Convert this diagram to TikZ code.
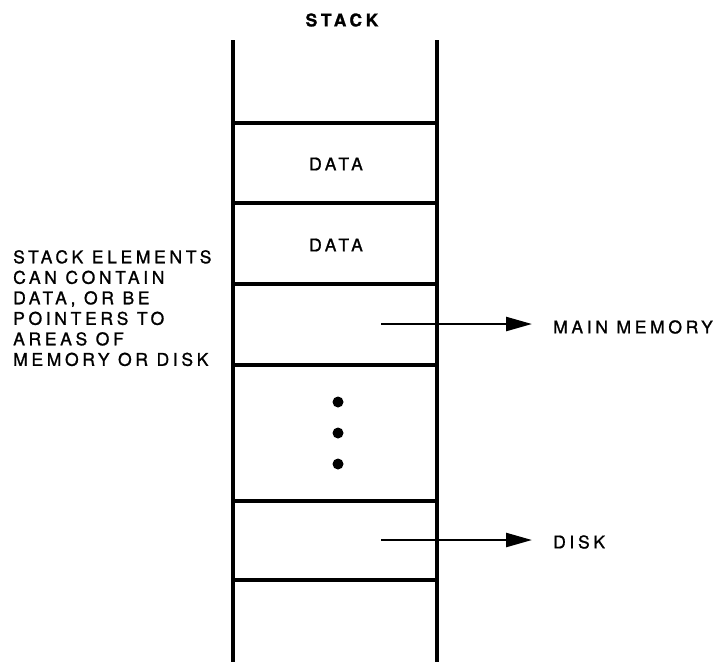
\documentclass[tikz,border=0pt]{standalone}
\usepackage{fontspec}
\setmainfont{TeX Gyre Heros}[LetterSpace=21, FakeBold=1.2]
\usetikzlibrary{arrows.meta}

\begin{document}
\begin{tikzpicture}[x=1pt, y=-1pt,
    wall/.style={line width=3.4pt},
    slot/.style={line width=3.2pt},
    ptr/.style={line width=2.4pt, -{Triangle[length=26pt,width=14pt]}},
    txt/.style={font=\fontsize{17.5}{20.5}\selectfont, inner sep=0pt}]
  \useasboundingbox (0,0) rectangle (717,662);

  % title
  \node[txt, font=\fontsize{17.5}{20.5}\selectfont\bfseries] (title) at (342,20) {STACK};

  % stack walls
  \draw[wall] (233,40) -- (233,662);
  \draw[wall] (437,40) -- (437,662);

  % element boundaries
  \foreach \y in {123,203,284,365,501,580}
    \draw[slot] (233,\y) -- (437,\y);

  % data elements
  \node[txt] (data1) at (336,164) {DATA};
  \node[txt] (data2) at (336,245) {DATA};

  % more elements
  \foreach \y in {402,433,464}
    \fill (338,\y) circle (5.5pt);

  % side note
  \node[txt, align=left, anchor=north west] (note) at (13,250)
    {STACK ELEMENTS\\CAN CONTAIN\\DATA, OR BE\\POINTERS TO\\AREAS OF\\MEMORY OR DISK};

  % pointers
  \coordinate (ptr1) at (381,324);
  \node[txt, anchor=west] (mem) at (553,327) {MAIN MEMORY};
  \draw[ptr, shorten >=21pt] (ptr1) -- (ptr1 -| mem.west);

  \coordinate (ptr2) at (381,540);
  \node[txt, anchor=west] (disk) at (553,542) {DISK};
  \draw[ptr, shorten >=21pt] (ptr2) -- (ptr2 -| disk.west);

\end{tikzpicture}
\end{document}
